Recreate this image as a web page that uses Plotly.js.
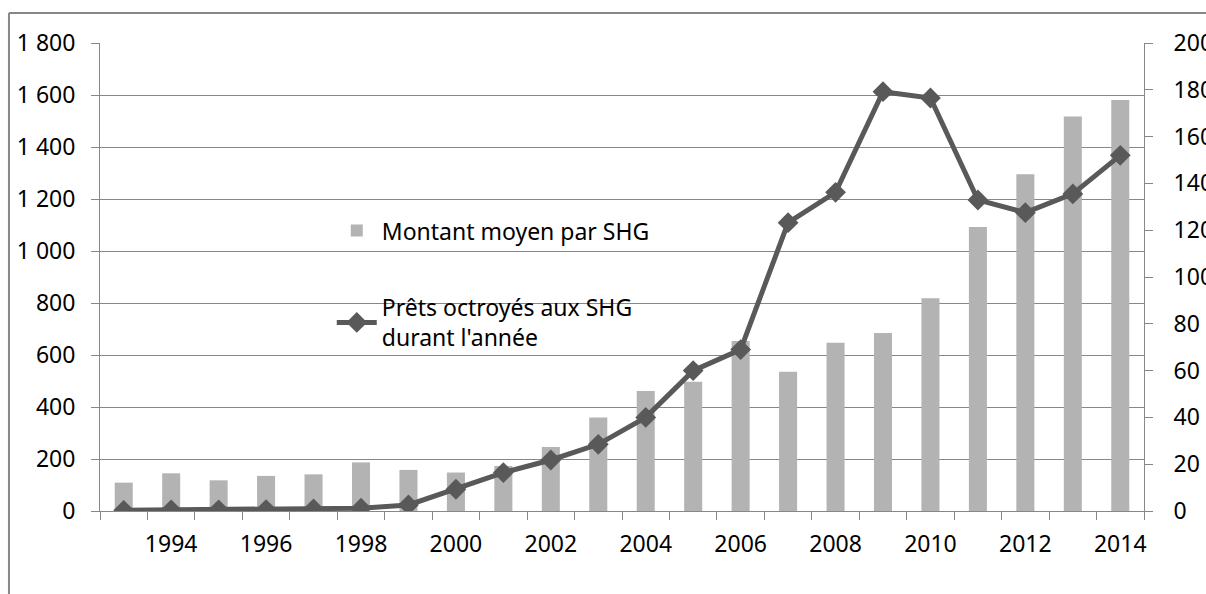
<!DOCTYPE html>
<html>
<head>
<meta charset="utf-8">
<script src="https://cdn.plot.ly/plotly-3.0.1.min.js"></script>
<style>
html,body{margin:0;padding:0;background:#fff;overflow:hidden;}
#chart{width:1206px;height:594px;}
</style>
</head>
<body>
<div id="chart"></div>
<script>
var years = [1993,1994,1995,1996,1997,1998,1999,2000,2001,2002,2003,2004,2005,2006,2007,2008,2009,2010,2011,2012,2013,2014];
var montantMoyen = [109,145,118,135,141,187,158,148,173,246,360,462,497,654,536,647,685,818,1092,1295,1517,1581];
var pretsOctroyes = [0.3,0.5,0.5,0.6,0.9,1.2,2.6,9.3,16.4,21.8,28.5,40,60,69,123.2,136.2,179.2,176.5,132.9,127.5,135.5,152];
var xTickVals = [1994,1996,1998,2000,2002,2004,2006,2008,2010,2012,2014];
var xTickText = ["1994","1996","1998","2000","2002","2004","2006","2008","2010","2012","2014"];
var leftTickVals = [0,200,400,600,800,1000,1200,1400,1600,1800];
var leftTickText = ["0","200","400","600","800","1 000","1 200","1 400","1 600","1 800"];
var rightTickVals = [0,20,40,60,80,100,120,140,160,180,200];
var rightTickText = ["0","20","40","60","80","100","120","140","160","180","200"];
var seriesNames = ["Montant moyen par SHG","Prêts octroyés aux SHG<br>durant l'année"];

var gray = '#878787';
var fontFam = '"Noto Sans", "Open Sans", sans-serif';

var traces = [
  {
    type: 'bar', x: years, y: montantMoyen, name: seriesNames[0],
    marker: {color: '#b3b3b3'}, yaxis: 'y', legendgroup: 'a'
  },
  {
    type: 'scatter', mode: 'lines+markers', x: years, y: pretsOctroyes, name: seriesNames[1],
    line: {color: '#595959', width: 5},
    marker: {symbol: 'diamond', size: 16, color: '#595959'},
    yaxis: 'y2', legendgroup: 'b'
  }
];

var layout = {
  width: 1206, height: 594,
  margin: {l: 100, r: 62, t: 43, b: 83},
  paper_bgcolor: '#fff', plot_bgcolor: '#fff',
  font: {family: fontFam, size: 23, color: '#000'},
  bargap: 0.62,
  showlegend: true,
  legend: {
    x: 0.222, y: 0.645, xanchor: 'left', yanchor: 'top',
    bgcolor: 'rgba(0,0,0,0)', font: {size: 23},
    traceorder: 'grouped', tracegroupgap: 44, itemwidth: 40
  },
  xaxis: {
    range: [1992.5, 2014.5], showgrid: false, zeroline: false,
    showline: true, linecolor: gray, linewidth: 1,
    tickmode: 'array', tickvals: xTickVals, ticktext: xTickText,
    ticks: '', ticklabelstandoff: 12,
    minor: {tick0: 1992.5, dtick: 1, ticks: 'outside', ticklen: 8, tickcolor: gray, showgrid: false}
  },
  yaxis: {
    range: [0, 1800], tickmode: 'array', tickvals: leftTickVals, ticktext: leftTickText,
    showgrid: true, gridcolor: gray, gridwidth: 1, zeroline: false,
    showline: true, linecolor: gray, linewidth: 1,
    ticks: 'outside', ticklen: 8, tickcolor: gray, ticklabelstandoff: 11
  },
  yaxis2: {
    range: [0, 200], overlaying: 'y', side: 'right',
    tickmode: 'array', tickvals: rightTickVals, ticktext: rightTickText,
    showgrid: false, zeroline: false,
    showline: true, linecolor: gray, linewidth: 1,
    ticks: 'outside', ticklen: 8, tickcolor: gray, ticklabelstandoff: 16
  },
  shapes: [
    {type: 'line', xref: 'paper', yref: 'paper', x0: -0.0872, x1: 1.2, y0: 1.064, y1: 1.064, line: {color: gray, width: 2}},
    {type: 'line', xref: 'paper', yref: 'paper', x0: -0.0872, x1: -0.0872, y0: 1.064, y1: -0.3, line: {color: gray, width: 2}}
  ]
};

Plotly.newPlot('chart', traces, layout, {displayModeBar: false, staticPlot: true});
</script>
</body>
</html>
